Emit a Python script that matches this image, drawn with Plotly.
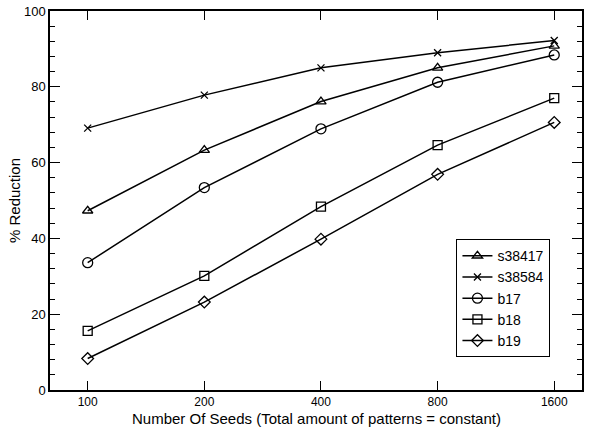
import plotly.graph_objects as go

seeds = ["100", "200", "400", "800", "1600"]
s38417 = [47.3, 63.3, 76.1, 85.0, 90.8]
s38584 = [69.1, 77.8, 85.0, 89.0, 92.2]
b17 = [33.6, 53.4, 68.9, 81.2, 88.4]
b18 = [15.6, 30.1, 48.4, 64.6, 77.0]
b19 = [8.3, 23.2, 39.8, 56.9, 70.6]

series = [
    ("s38417", s38417, "triangle-up-open", 9),
    ("s38584", s38584, "x-thin-open", 7),
    ("b17", b17, "circle-open", 10),
    ("b18", b18, "square-open", 9),
    ("b19", b19, "diamond-open", 9),
]

fig = go.Figure()
xidx = list(range(len(seeds)))
for name, vals, sym, sz in series:
    fig.add_trace(go.Scatter(
        x=xidx, y=vals, name=name, mode="lines+markers",
        line=dict(color="black", width=1.5),
        marker=dict(symbol=sym, size=sz, color="black",
                    line=dict(color="black", width=1.3)),
    ))

font = "Liberation Sans, Arial, sans-serif"
fig.update_layout(
    width=589, height=427,
    margin=dict(l=50, r=7, t=11, b=37, autoexpand=False),
    paper_bgcolor="white", plot_bgcolor="white",
    font=dict(family=font, color="black", size=13),
    showlegend=True,
    legend=dict(x=0.764, y=0.398, xanchor="left", yanchor="top",
                bordercolor="black", borderwidth=1, bgcolor="white",
                font=dict(size=14, family=font), tracegroupgap=0,
                itemwidth=30),
    xaxis=dict(
        range=[-0.323, 4.238], tickmode="array", tickvals=xidx, ticktext=seeds,
        ticks="inside", ticklen=9, tickcolor="black", tickwidth=1,
        showline=True, linecolor="black", linewidth=1.5, mirror="ticks",
        showgrid=False, zeroline=False, automargin=False,
        tickfont=dict(size=12),
    ),
    yaxis=dict(
        range=[0, 100], tickmode="linear", dtick=20, tick0=0,
        ticks="inside", ticklen=10, tickcolor="black", tickwidth=1,
        minor=dict(dtick=4, ticks="inside", ticklen=5, tickcolor="black", tickwidth=1),
        showline=True, linecolor="black", linewidth=1.5, mirror="ticks",
        showgrid=False, zeroline=False, automargin=False,
        tickfont=dict(size=13),
    ),
    annotations=[
        dict(text="Number Of Seeds (Total amount of patterns = constant)",
             xref="paper", yref="paper", x=0.5, y=0, yshift=-18,
             xanchor="center", yanchor="top", showarrow=False,
             font=dict(size=15)),
        dict(text="% Reduction", xref="paper", yref="paper",
             x=0, xshift=-25, y=0.5, xanchor="right", yanchor="middle",
             textangle=-90, showarrow=False, font=dict(size=15)),
    ],
)

fig.write_html("out.html", config={"displayModeBar": False},
               post_script="document.body.style.margin='0';document.body.style.padding='0';")
